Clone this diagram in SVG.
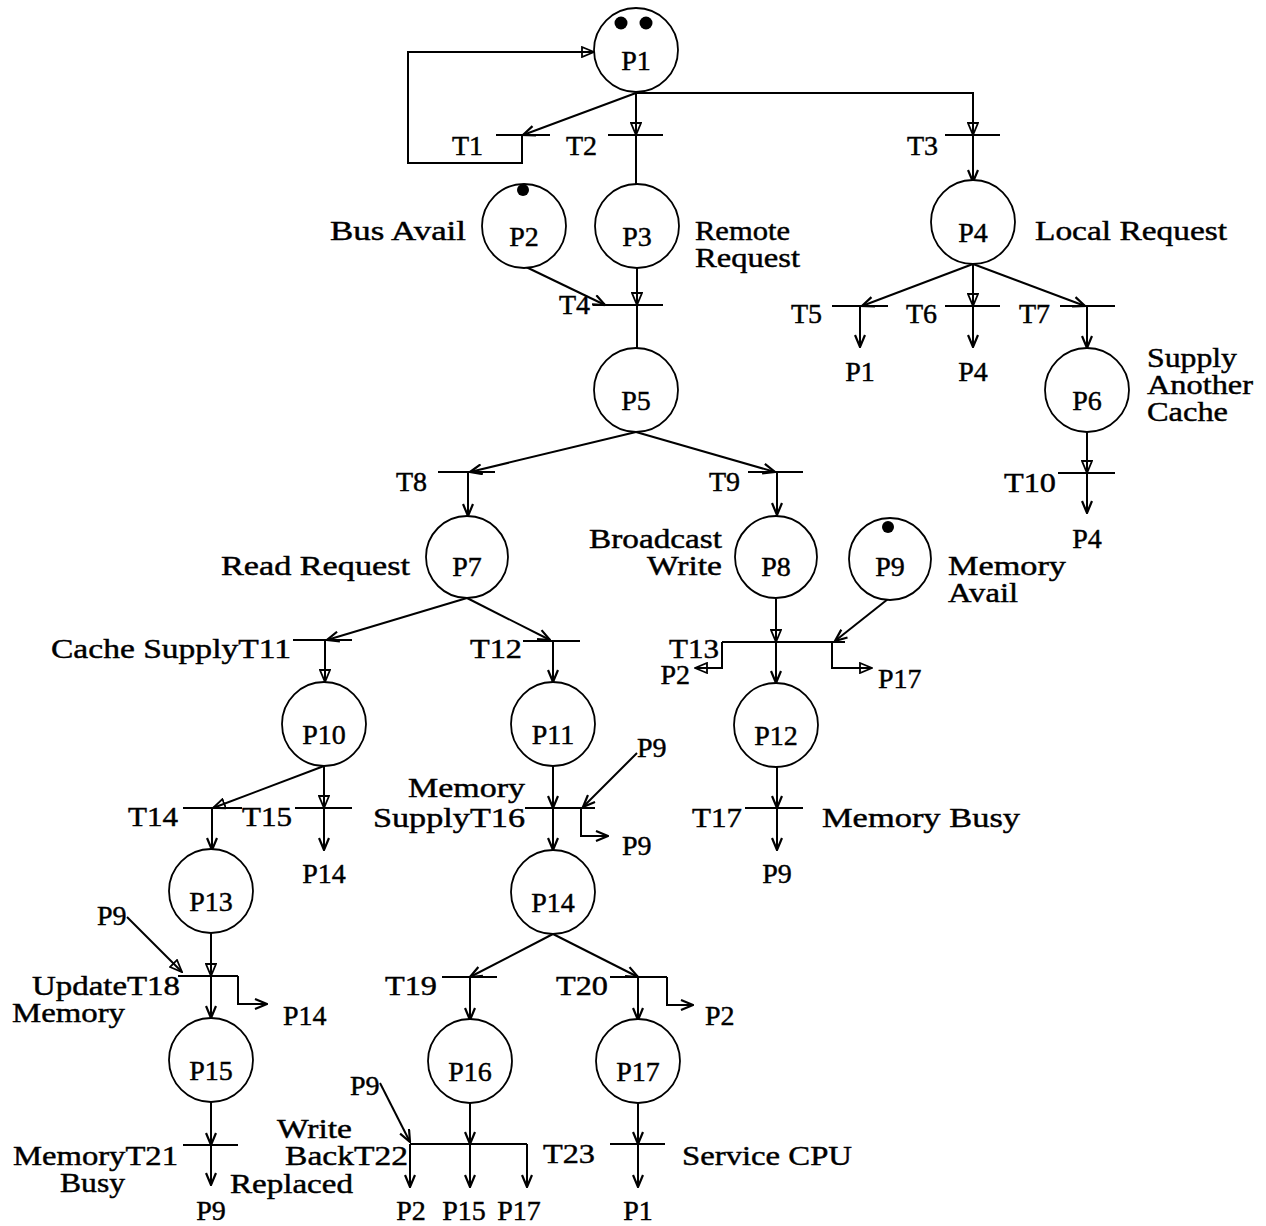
<svg xmlns="http://www.w3.org/2000/svg" width="1266" height="1226" viewBox="0 0 1266 1226">
<style>
text{font-family:"Liberation Serif","Times New Roman",serif;font-size:28px;fill:#000;stroke:#000;stroke-width:0.45}
.e{text-anchor:end}
.m{text-anchor:middle}
.pl{fill:#fff;stroke:#000;stroke-width:1.8}
.bar{stroke:#000;stroke-width:2}
.tok{fill:#000;stroke:none}
#connectors path,#connectors line{fill:none;stroke:#000;stroke-width:2}
.a{marker-end:url(#v)}
.b{marker-end:url(#t)}
</style>
<defs>
<marker id="v" viewBox="0 0 14 12" refX="13" refY="6" markerWidth="14" markerHeight="12" markerUnits="userSpaceOnUse" orient="auto"><path d="M1,1 L13,6 L1,11" fill="none" stroke="#000" stroke-width="2.2"/></marker>
<marker id="t" viewBox="0 0 14 12" refX="13" refY="6" markerWidth="14" markerHeight="12" markerUnits="userSpaceOnUse" orient="auto"><path d="M1,1 L13,6 L1,11 Z" fill="none" stroke="#000" stroke-width="1.8"/></marker>
</defs>
<rect width="1266" height="1226" fill="#fff"/>

<g id="connectors">
<line class="a" x1="636" y1="93" x2="523" y2="135"/>
<line class="b" x1="636" y1="93" x2="636" y2="135"/>
<path class="b" d="M636,93 H973 V135"/>
<line x1="636" y1="135" x2="636" y2="184"/>
<line class="a" x1="973" y1="135" x2="973" y2="182"/>
<path class="b" d="M522,135 V163 H408 V52 H594"/>
<line class="a" x1="524" y1="266" x2="605" y2="305"/>
<line class="b" x1="637" y1="268" x2="637" y2="305"/>
<line x1="637" y1="305" x2="637" y2="348"/>
<line class="a" x1="973" y1="264" x2="862" y2="306"/>
<line class="b" x1="973" y1="264" x2="973" y2="306"/>
<line class="a" x1="973" y1="264" x2="1085" y2="306"/>
<line class="a" x1="860" y1="306" x2="860" y2="347"/>
<line class="a" x1="973" y1="306" x2="973" y2="347"/>
<line class="a" x1="1087" y1="306" x2="1087" y2="348"/>
<line class="b" x1="1087" y1="432" x2="1087" y2="473"/>
<line class="a" x1="1087" y1="473" x2="1087" y2="513"/>
<line class="a" x1="636" y1="432" x2="470" y2="472"/>
<line class="a" x1="636" y1="432" x2="775" y2="472"/>
<line class="a" x1="468" y1="472" x2="468" y2="516"/>
<line class="a" x1="777" y1="472" x2="777" y2="515"/>
<line class="a" x1="467" y1="598" x2="327" y2="640"/>
<line class="a" x1="467" y1="598" x2="550" y2="640"/>
<line class="b" x1="325" y1="640" x2="325" y2="682"/>
<line class="a" x1="553" y1="641" x2="553" y2="682"/>
<line class="b" x1="776" y1="599" x2="776" y2="642"/>
<line class="a" x1="888" y1="599" x2="835" y2="641"/>
<line class="a" x1="776" y1="642" x2="776" y2="683"/>
<path class="b" d="M722,642 V668 H695"/>
<path class="b" d="M832,642 V668 H872"/>
<line class="b" x1="324" y1="766" x2="213" y2="808"/>
<line class="b" x1="324" y1="766" x2="324" y2="808"/>
<line class="a" x1="212" y1="808" x2="212" y2="850"/>
<line class="a" x1="324" y1="808" x2="324" y2="850"/>
<line class="a" x1="553" y1="766" x2="553" y2="808"/>
<line class="a" x1="637" y1="753" x2="583" y2="807"/>
<path class="a" d="M581,808 V836 H608"/>
<line class="a" x1="553" y1="808" x2="553" y2="850"/>
<line class="a" x1="777" y1="767" x2="777" y2="808"/>
<line class="a" x1="777" y1="808" x2="777" y2="850"/>
<line class="b" x1="211" y1="933" x2="211" y2="976"/>
<line class="b" x1="127" y1="917" x2="182" y2="972"/>
<line class="a" x1="211" y1="976" x2="211" y2="1018"/>
<path class="a" d="M238,976 V1004 H267"/>
<line class="a" x1="211" y1="1102" x2="211" y2="1145"/>
<line class="a" x1="211" y1="1145" x2="211" y2="1185"/>
<line class="a" x1="553" y1="934" x2="470" y2="977"/>
<line class="a" x1="553" y1="934" x2="638" y2="977"/>
<line class="a" x1="470" y1="977" x2="470" y2="1020"/>
<line class="a" x1="638" y1="977" x2="638" y2="1020"/>
<path class="a" d="M667,977 V1005 H693"/>
<line class="a" x1="470" y1="1103" x2="470" y2="1144"/>
<line class="a" x1="380" y1="1083" x2="410" y2="1142"/>
<line class="a" x1="410" y1="1144" x2="410" y2="1187"/>
<line class="a" x1="470" y1="1144" x2="470" y2="1187"/>
<line class="a" x1="527" y1="1144" x2="527" y2="1187"/>
<line class="a" x1="638" y1="1103" x2="638" y2="1144"/>
<line class="a" x1="638" y1="1144" x2="638" y2="1187"/>
<text class="m" x="860" y="381">P1</text>
<text class="m" x="973" y="381">P4</text>
<text class="m" x="1087" y="548">P4</text>
<text class="e" x="690" y="684">P2</text>
<text x="878" y="688">P17</text>
<text class="m" x="324" y="883">P14</text>
<text x="637" y="757">P9</text>
<text x="622" y="855">P9</text>
<text class="m" x="777" y="883">P9</text>
<text x="97" y="925">P9</text>
<text x="283" y="1025">P14</text>
<text x="705" y="1025">P2</text>
<text class="m" x="211" y="1220">P9</text>
<text x="350" y="1095">P9</text>
<text class="m" x="411" y="1220">P2</text>
<text class="m" x="464" y="1220">P15</text>
<text class="m" x="519" y="1220">P17</text>
<text class="m" x="638" y="1220">P1</text>
</g>

<g id="P1"><circle class="pl" cx="636" cy="50" r="42"/><circle class="tok" cx="621" cy="23" r="6.5"/><circle class="tok" cx="646" cy="23" r="6.5"/><text class="m" x="636" y="70">P1</text></g>
<g id="P2"><circle class="pl" cx="524" cy="226" r="42"/><circle class="tok" cx="523" cy="190" r="6"/><text class="m" x="524" y="246">P2</text><text class="e" x="466" y="240" textLength="136" lengthAdjust="spacingAndGlyphs">Bus Avail</text></g>
<g id="P3"><circle class="pl" cx="637" cy="226" r="42"/><text class="m" x="637" y="246">P3</text><text x="695" y="240" textLength="95" lengthAdjust="spacingAndGlyphs">Remote</text><text x="695" y="267" textLength="105" lengthAdjust="spacingAndGlyphs">Request</text></g>
<g id="P4"><circle class="pl" cx="973" cy="222" r="42"/><text class="m" x="973" y="242">P4</text><text x="1035" y="240" textLength="192" lengthAdjust="spacingAndGlyphs">Local Request</text></g>
<g id="P5"><circle class="pl" cx="636" cy="390" r="42"/><text class="m" x="636" y="410">P5</text></g>
<g id="P6"><circle class="pl" cx="1087" cy="390" r="42"/><text class="m" x="1087" y="410">P6</text><text x="1147" y="367" textLength="90" lengthAdjust="spacingAndGlyphs">Supply</text><text x="1147" y="394" textLength="106" lengthAdjust="spacingAndGlyphs">Another</text><text x="1147" y="421" textLength="81" lengthAdjust="spacingAndGlyphs">Cache</text></g>
<g id="P7"><circle class="pl" cx="467" cy="557" r="41"/><text class="m" x="467" y="576">P7</text><text class="e" x="410" y="575" textLength="189" lengthAdjust="spacingAndGlyphs">Read Request</text></g>
<g id="P8"><circle class="pl" cx="776" cy="557" r="41"/><text class="m" x="776" y="576">P8</text><text class="e" x="722" y="548" textLength="133" lengthAdjust="spacingAndGlyphs">Broadcast</text><text class="e" x="722" y="575" textLength="75" lengthAdjust="spacingAndGlyphs">Write</text></g>
<g id="P9"><circle class="pl" cx="890" cy="559" r="41"/><circle class="tok" cx="888" cy="527" r="6"/><text class="m" x="890" y="576">P9</text><text x="948" y="575" textLength="118" lengthAdjust="spacingAndGlyphs">Memory</text><text x="948" y="602" textLength="70" lengthAdjust="spacingAndGlyphs">Avail</text></g>
<g id="P10"><circle class="pl" cx="324" cy="724" r="42"/><text class="m" x="324" y="744">P10</text></g>
<g id="P11"><circle class="pl" cx="553" cy="724" r="42"/><text class="m" x="553" y="744">P11</text></g>
<g id="P12"><circle class="pl" cx="776" cy="725" r="42"/><text class="m" x="776" y="745">P12</text></g>
<g id="P13"><circle class="pl" cx="211" cy="891" r="42"/><text class="m" x="211" y="911">P13</text></g>
<g id="P14"><circle class="pl" cx="553" cy="892" r="42"/><text class="m" x="553" y="912">P14</text></g>
<g id="P15"><circle class="pl" cx="211" cy="1060" r="42"/><text class="m" x="211" y="1080">P15</text></g>
<g id="P16"><circle class="pl" cx="470" cy="1061" r="42"/><text class="m" x="470" y="1081">P16</text></g>
<g id="P17"><circle class="pl" cx="638" cy="1061" r="42"/><text class="m" x="638" y="1081">P17</text></g>

<g id="T1"><line class="bar" x1="496" y1="135" x2="550" y2="135"/><text class="e" x="483" y="155">T1</text></g>
<g id="T2"><line class="bar" x1="608" y1="135" x2="663" y2="135"/><text class="e" x="597" y="155">T2</text></g>
<g id="T3"><line class="bar" x1="945" y1="135" x2="1000" y2="135"/><text class="e" x="938" y="155">T3</text></g>
<g id="T4"><line class="bar" x1="593" y1="305" x2="663" y2="305"/><text class="e" x="590" y="314">T4</text></g>
<g id="T5"><line class="bar" x1="832" y1="306" x2="888" y2="306"/><text class="e" x="822" y="323">T5</text></g>
<g id="T6"><line class="bar" x1="945" y1="306" x2="1000" y2="306"/><text class="e" x="937" y="323">T6</text></g>
<g id="T7"><line class="bar" x1="1060" y1="306" x2="1115" y2="306"/><text class="e" x="1050" y="323">T7</text></g>
<g id="T8"><line class="bar" x1="438" y1="472" x2="495" y2="472"/><text class="e" x="427" y="491">T8</text></g>
<g id="T9"><line class="bar" x1="748" y1="472" x2="803" y2="472"/><text class="e" x="740" y="491">T9</text></g>
<g id="T10"><line class="bar" x1="1058" y1="473" x2="1115" y2="473"/><text class="e" x="1056" y="492" textLength="52" lengthAdjust="spacingAndGlyphs">T10</text></g>
<g id="T11"><line class="bar" x1="293" y1="640" x2="352" y2="640"/><text class="e" x="291" y="658" textLength="240" lengthAdjust="spacingAndGlyphs">Cache SupplyT11</text></g>
<g id="T12"><line class="bar" x1="523" y1="641" x2="580" y2="641"/><text class="e" x="522" y="658" textLength="52" lengthAdjust="spacingAndGlyphs">T12</text></g>
<g id="T13"><line class="bar" x1="722" y1="642" x2="845" y2="642"/><text class="e" x="719" y="658" textLength="50" lengthAdjust="spacingAndGlyphs">T13</text></g>
<g id="T14"><line class="bar" x1="183" y1="808" x2="242" y2="808"/><text class="e" x="178" y="826" textLength="50" lengthAdjust="spacingAndGlyphs">T14</text></g>
<g id="T15"><line class="bar" x1="295" y1="808" x2="352" y2="808"/><text class="e" x="292" y="826" textLength="50" lengthAdjust="spacingAndGlyphs">T15</text></g>
<g id="T16"><line class="bar" x1="525" y1="808" x2="595" y2="808"/><text class="e" x="525" y="797" textLength="117" lengthAdjust="spacingAndGlyphs">Memory</text><text class="e" x="525" y="827" textLength="152" lengthAdjust="spacingAndGlyphs">SupplyT16</text></g>
<g id="T17"><line class="bar" x1="745" y1="808" x2="803" y2="808"/><text class="e" x="742" y="827" textLength="50" lengthAdjust="spacingAndGlyphs">T17</text><text x="822" y="827" textLength="198" lengthAdjust="spacingAndGlyphs">Memory Busy</text></g>
<g id="T18"><line class="bar" x1="178" y1="976" x2="238" y2="976"/><text class="e" x="180" y="995" textLength="148" lengthAdjust="spacingAndGlyphs">UpdateT18</text><text x="12" y="1022" textLength="113" lengthAdjust="spacingAndGlyphs">Memory</text></g>
<g id="T19"><line class="bar" x1="442" y1="977" x2="497" y2="977"/><text class="e" x="437" y="995" textLength="52" lengthAdjust="spacingAndGlyphs">T19</text></g>
<g id="T20"><line class="bar" x1="610" y1="977" x2="667" y2="977"/><text class="e" x="608" y="995" textLength="52" lengthAdjust="spacingAndGlyphs">T20</text></g>
<g id="T21"><line class="bar" x1="183" y1="1145" x2="238" y2="1145"/><text class="e" x="178" y="1165" textLength="165" lengthAdjust="spacingAndGlyphs">MemoryT21</text><text x="60" y="1192" textLength="65" lengthAdjust="spacingAndGlyphs">Busy</text><text x="230" y="1193" textLength="123" lengthAdjust="spacingAndGlyphs">Replaced</text></g>
<g id="T22"><line class="bar" x1="410" y1="1144" x2="527" y2="1144"/><text x="277" y="1138" textLength="75" lengthAdjust="spacingAndGlyphs">Write</text><text class="e" x="408" y="1165" textLength="123" lengthAdjust="spacingAndGlyphs">BackT22</text></g>
<g id="T23"><line class="bar" x1="610" y1="1144" x2="665" y2="1144"/><text class="e" x="595" y="1163" textLength="52" lengthAdjust="spacingAndGlyphs">T23</text><text x="682" y="1165" textLength="170" lengthAdjust="spacingAndGlyphs">Service CPU</text></g>
</svg>
